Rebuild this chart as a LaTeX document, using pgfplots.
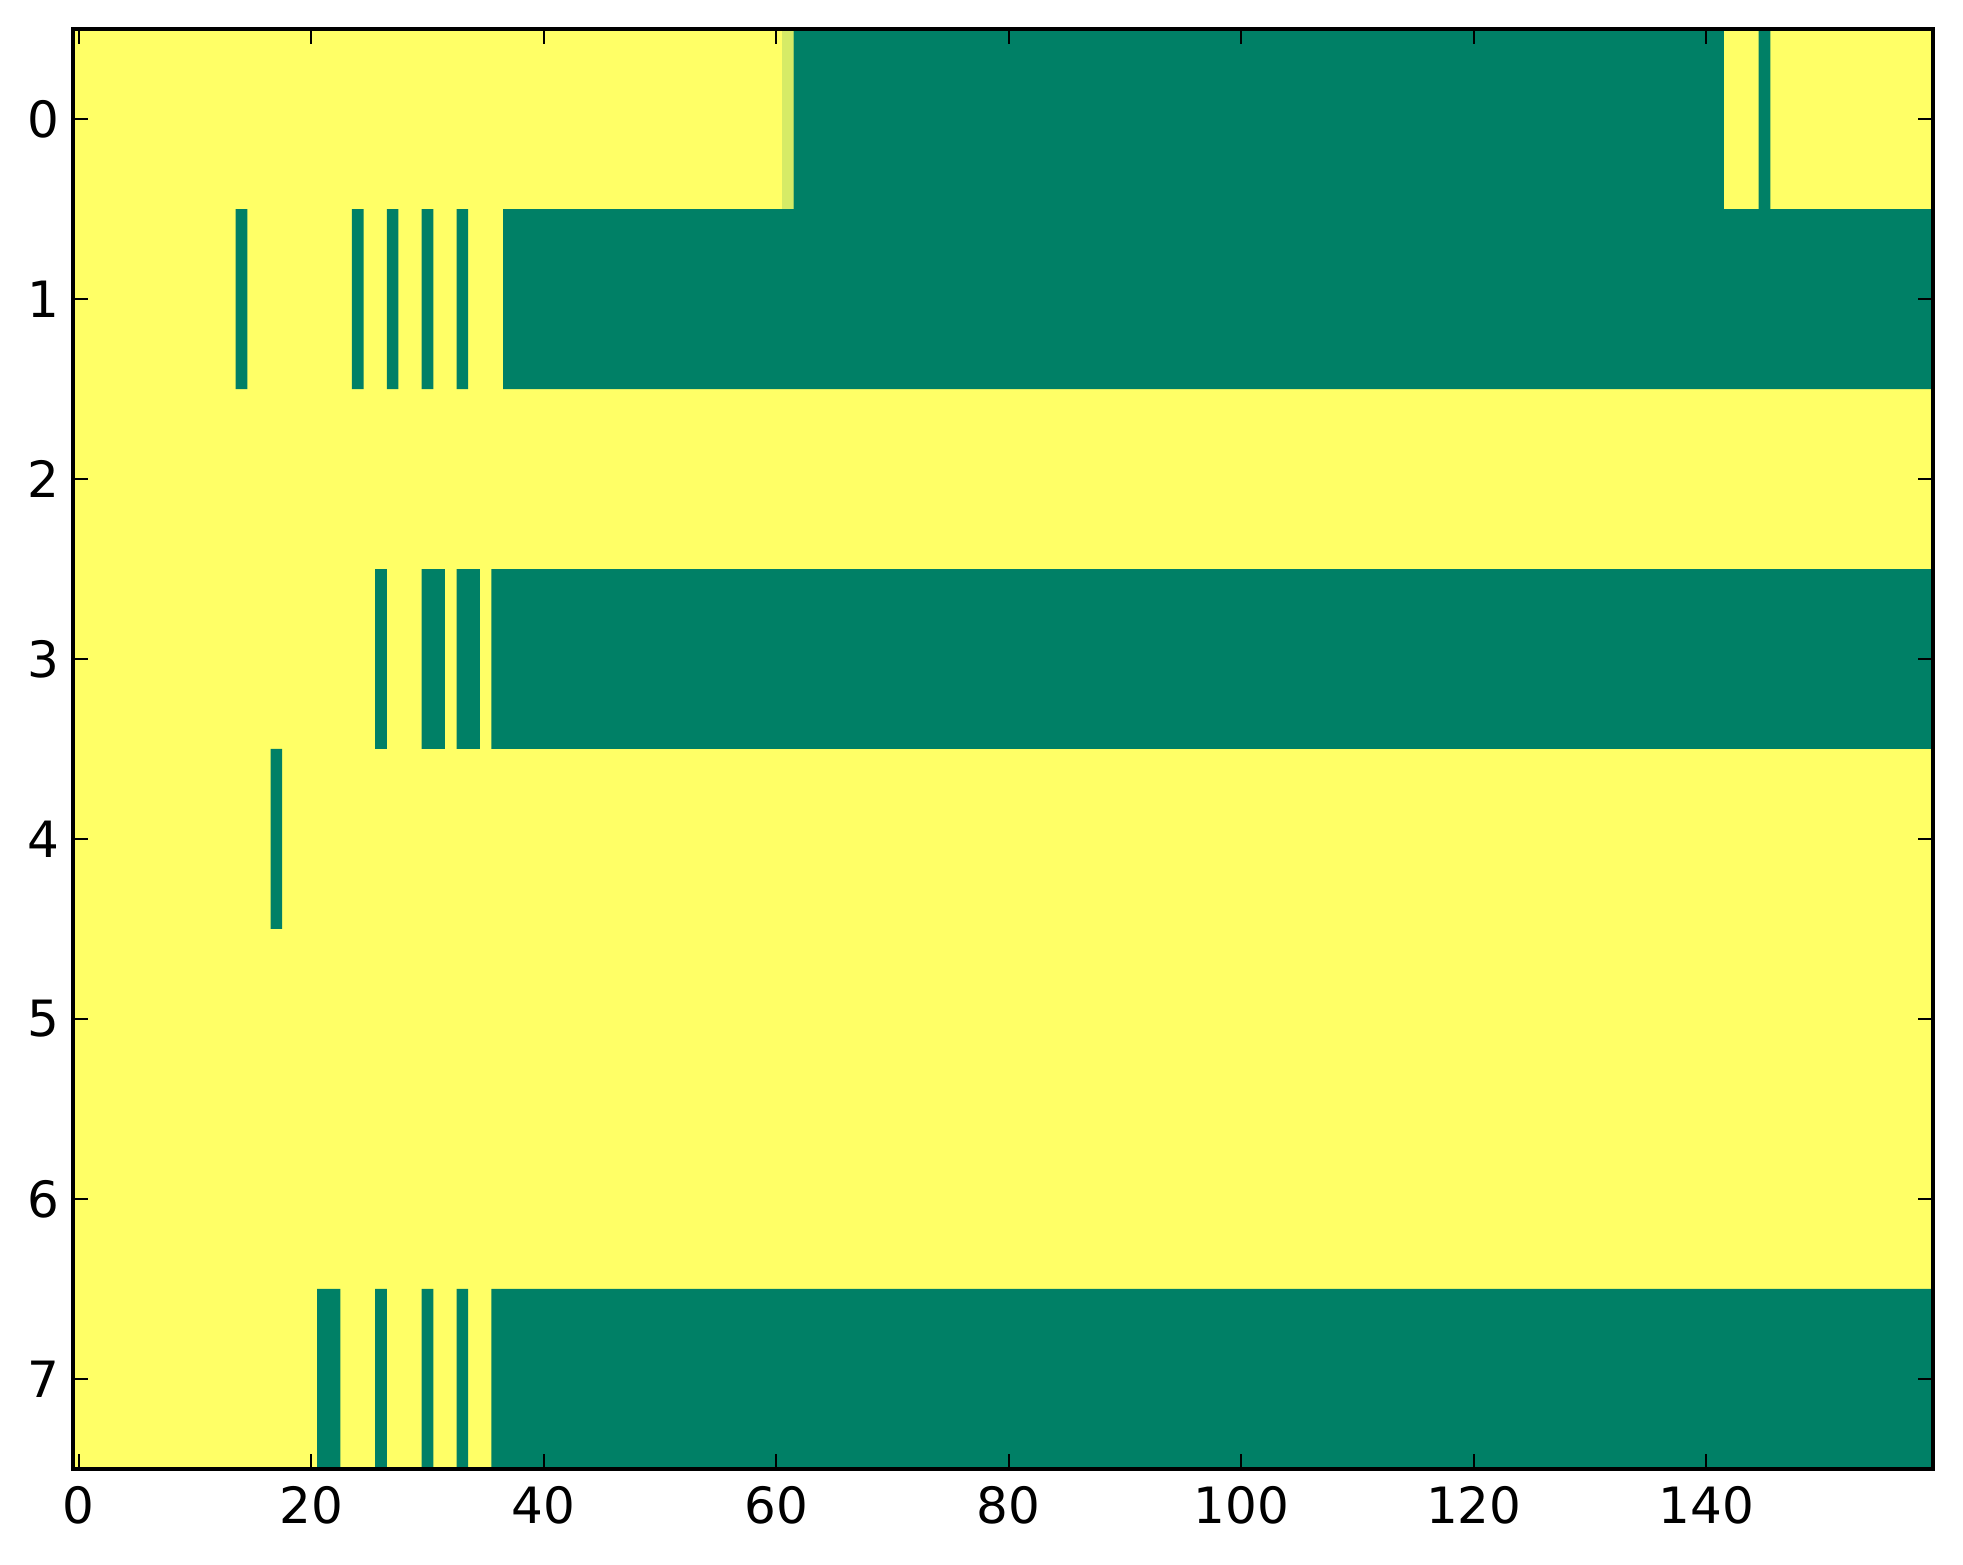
\documentclass[border=0pt]{standalone}
\usepackage{fontspec}
\setmainfont{DejaVu Sans}
\usepackage{pgfplots}
\pgfplotsset{compat=1.18}
\definecolor{grn}{RGB}{0,128,102}
\definecolor{yel}{RGB}{255,255,102}
\definecolor{lgt}{RGB}{214,235,102}
% one filled cell run: row, first column, last column
\newcommand{\run}[4]{%
  \addplot[fill=#4, draw=none, forget plot] coordinates {(#2-0.5,#1-0.5) (#3+0.5,#1-0.5) (#3+0.5,#1+0.5) (#2-0.5,#1+0.5) (#2-0.5,#1-0.5)};}
\begin{document}
\fontsize{12pt}{14pt}\selectfont
\begin{tikzpicture}
\begin{axis}[
  scale only axis,
  width=446.4pt, height=345.5pt,
  xmin=-0.5, xmax=159.5, ymin=-0.5, ymax=7.5,
  y dir=reverse,
  xtick={0,20,...,140}, ytick={0,1,...,7},
  tick align=inside,
  major tick length=3.6pt,
  major tick style={black, line width=0.5pt},
  axis line style={line width=1pt},
  axis on top,
  ticklabel style={font=\fontsize{12pt}{14pt}\selectfont},
  yticklabel style={xshift=1pt},
  /pgf/number format/assume math mode=true,
  clip=true,
]
% all cells of value 1 (yellow)
\addplot[fill=yel, draw=none, forget plot] coordinates {(-0.5,-0.5) (159.5,-0.5) (159.5,7.5) (-0.5,7.5) (-0.5,-0.5)};
% row 0
\run{0}{61}{61}{lgt}
\run{0}{62}{141}{grn}
\run{0}{145}{145}{grn}
% row 1
\run{1}{14}{14}{grn}
\run{1}{24}{24}{grn}
\run{1}{27}{27}{grn}
\run{1}{30}{30}{grn}
\run{1}{33}{33}{grn}
\run{1}{37}{159}{grn}
% row 3
\run{3}{26}{26}{grn}
\run{3}{30}{31}{grn}
\run{3}{33}{34}{grn}
\run{3}{36}{159}{grn}
% row 4
\run{4}{17}{17}{grn}
% row 7
\run{7}{21}{22}{grn}
\run{7}{26}{26}{grn}
\run{7}{30}{30}{grn}
\run{7}{33}{33}{grn}
\run{7}{36}{159}{grn}
\end{axis}
\pgfresetboundingbox
\useasboundingbox ([xshift=-17.5pt,yshift=-22.9pt]current axis.south west) rectangle ([xshift=7.2pt,yshift=7pt]current axis.north east);
\end{tikzpicture}
\end{document}
